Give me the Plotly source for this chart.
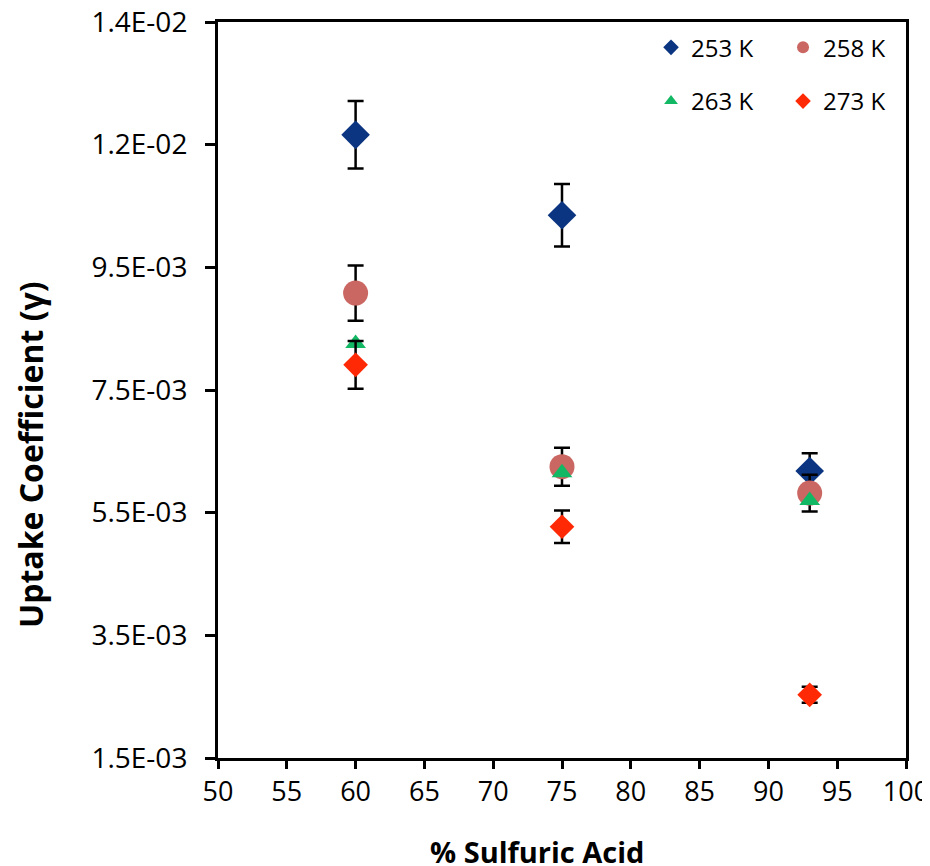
import plotly.graph_objects as go

x_acid = [60, 75, 93]

y_253 = [0.01166, 0.01035, 0.00618]
e_253 = [0.00055, 0.00051, 0.00029]
y_258 = [0.00908, 0.00625, 0.00582]
e_258 = [0.00045, 0.00031, 0.00030]
y_263 = [0.00826, 0.00615, 0.00570]
y_273 = [0.00791, 0.00527, 0.00253]
e_273 = [0.00039, 0.000265, 0.00013]

y_tickvals = [0.0015, 0.0035, 0.0055, 0.0075, 0.0095, 0.0115, 0.0135]
y_ticktext = ["1.5E-03", "3.5E-03", "5.5E-03", "7.5E-03", "9.5E-03", "1.2E-02", "1.4E-02"]

FONT = "Open Sans"

def err(vals):
    return dict(type="data", array=vals, visible=True, color="black", thickness=2.5, width=8)

fig = go.Figure()
fig.add_trace(go.Scatter(x=x_acid, y=y_253, mode="markers", name="253 K",
                         marker=dict(symbol="diamond", size=22, color="#0B3580"),
                         error_y=err(e_253), legend="legend"))
fig.add_trace(go.Scatter(x=x_acid, y=y_258, mode="markers", name="258 K",
                         marker=dict(symbol="circle", size=25, color="#CB6762"),
                         error_y=err(e_258), legend="legend"))
fig.add_trace(go.Scatter(x=x_acid, y=y_263, mode="markers", name="263 K",
                         marker=dict(symbol="triangle-up", size=18, color="#12B864"),
                         legend="legend2"))
fig.add_trace(go.Scatter(x=x_acid, y=y_273, mode="markers", name="273 K",
                         marker=dict(symbol="diamond", size=19, color="#FF2A05"),
                         error_y=err(e_273), legend="legend2"))

leg_common = dict(orientation="h", xanchor="left", yanchor="middle",
                  font=dict(family=FONT, size=24, color="black"),
                  itemsizing="constant", entrywidth=87, entrywidthmode="pixels",
                  bgcolor="rgba(0,0,0,0)", tracegroupgap=0)

# the page body adds an 8px margin, so the figure is 8px smaller than the window
fig.update_layout(
    width=922, height=858,
    margin=dict(l=210, r=24, t=14, b=108, autoexpand=False),
    paper_bgcolor="white", plot_bgcolor="white",
    showlegend=True,
    legend=dict(x=0.6294, y=0.965, **leg_common),
    legend2=dict(x=0.6294, y=0.892, **leg_common),
    xaxis=dict(range=[50, 100], tickmode="linear", tick0=50, dtick=5, automargin=False,
               showline=True, linecolor="black", linewidth=3, mirror=True,
               ticks="outside", ticklen=8, tickwidth=2.5, tickcolor="black",
               showgrid=False, zeroline=False, ticklabeloverflow="allow",
               tickfont=dict(family=FONT, size=27, color="black")),
    yaxis=dict(range=[0.0015, 0.0135], tickmode="array", tickvals=y_tickvals, ticktext=y_ticktext,
               automargin=False,
               showline=True, linecolor="black", linewidth=3, mirror=True,
               ticks="outside", ticklen=10, tickwidth=2.5, tickcolor="black",
               showgrid=False, zeroline=False, ticklabelstandoff=12, ticklabeloverflow="allow",
               tickfont=dict(family=FONT, size=28, color="black")),
    annotations=[
        dict(text="<b>% Sulfuric Acid</b>", xref="paper", yref="paper", x=0.4637, y=0,
             xanchor="center", yanchor="middle", yshift=-93, showarrow=False,
             font=dict(family=FONT, size=29, color="black")),
        dict(text="<b>Uptake Coefficient (γ)</b>", xref="paper", yref="paper", x=0, y=0.4117,
             xanchor="center", yanchor="middle", xshift=-187, textangle=-90, showarrow=False,
             font=dict(family=FONT, size=32, color="black")),
    ],
)

fig.write_html("out.html")
